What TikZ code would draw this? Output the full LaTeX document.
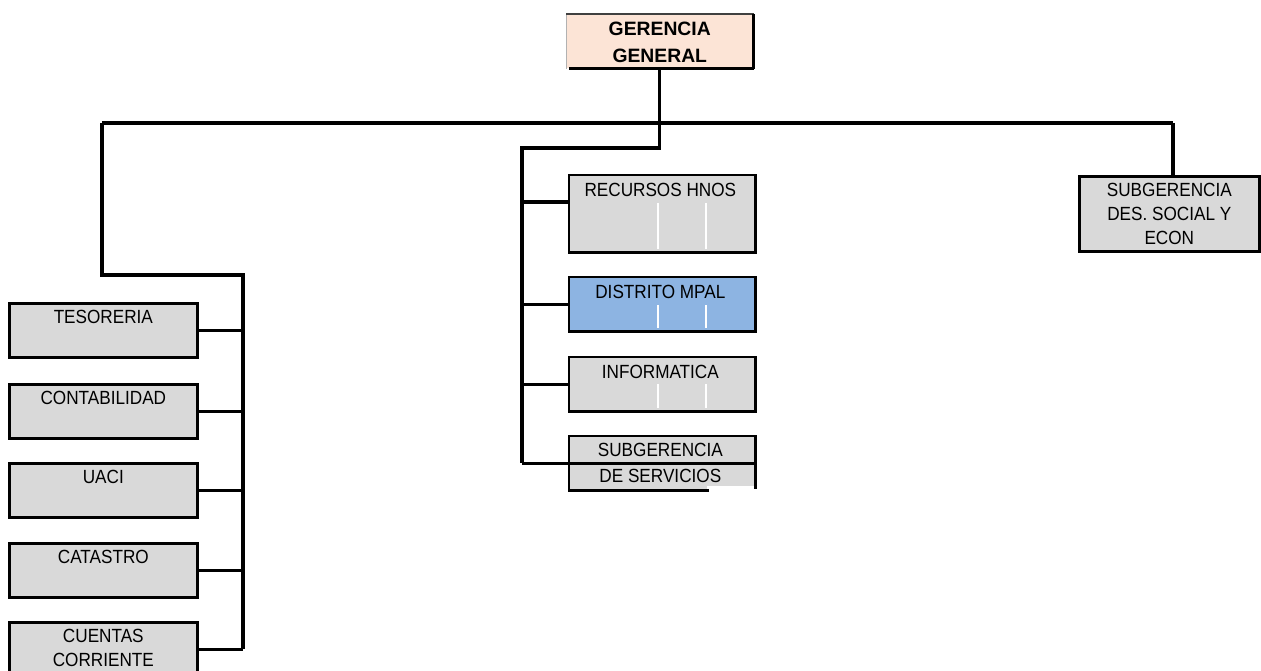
\documentclass[tikz,border=0pt]{standalone}
\usepackage{fontspec}
\setmainfont{Liberation Sans}
\newfontfamily\narrowsans[FakeStretch=0.9]{Liberation Sans}
\usetikzlibrary{calc}
\definecolor{boxgray}{HTML}{D9D9D9}
\definecolor{boxblue}{HTML}{8DB4E2}
\definecolor{boxpeach}{HTML}{FCE4D6}
\definecolor{rimgray}{HTML}{404040}
\begin{document}
\begin{tikzpicture}[x=0.75pt,y=-0.75pt,
  unit/.style={draw=black, line width=2pt, fill=boxgray, inner sep=0pt,
    anchor=north west, minimum width=141pt, minimum height=40.5pt},
  midunit/.style={unit, minimum width=138pt, minimum height=39pt},
  lbl/.style={anchor=north, inner sep=0pt, align=center,
    font=\narrowsans\fontsize{14.3}{18}\selectfont},
  grid/.style={white, line width=0.8pt},
  conn/.style={black, line width=2.5pt}]
\useasboundingbox (0,0) rectangle (1261,671);
\clip (0,0) rectangle (1261,671);

% ---- top: general management ----
\node[fill=boxpeach, inner sep=0pt, anchor=north west,
  minimum width=140.25pt, minimum height=40.5pt] (gg) at (566,14) {};
\draw[gray!60, line width=0.6pt] (gg.south west) -- (gg.north west);
\draw[rimgray, line width=2pt] (gg.north west) -- (gg.north east);
\draw[black, line width=2pt] (gg.north east) -- (gg.south east);
\draw[black, line width=2.4pt] ($(gg.south west)+(3,0)$) -- (gg.south east);
\node[lbl, font=\bfseries\fontsize{14.5}{20.25}\selectfont] (gg-t)
  at ($(gg.north)+(0,8)$) {GERENCIA\\GENERAL};

% ---- left column ----
\node[unit] (tes)  at (8,302) {};
\node[unit] (cont) at (8,383) {};
\node[unit] (uaci) at (8,462) {};
\node[unit] (cat)  at (8,542) {};
\node[unit] (cue)  at (8,621) {};
\node[lbl] (tes-t)  at ($(tes.north)+(0,7.5)$)  {TESORERIA};
\node[lbl] (cont-t) at ($(cont.north)+(0,7.5)$) {CONTABILIDAD};
\node[lbl] (uaci-t) at ($(uaci.north)+(0,7.5)$) {UACI};
\node[lbl] (cat-t)  at ($(cat.north)+(0,7.5)$)  {CATASTRO};
\node[lbl] (cue-t)  at ($(cue.north)+(0,7.5)$)  {CUENTAS\\CORRIENTE};

% ---- middle column ----
\node[midunit, draw=none, minimum height=56.25pt] (rec) at (569,175) {};
\draw[grid] (658,203) -- (658,249) (706,203) -- (706,249);
\draw[black, line width=2pt] (rec.north west) rectangle (rec.south east);

\node[midunit, draw=none, fill=boxblue] (dist) at (569,277) {};
\draw[grid] (658,305) -- (658,328) (706,305) -- (706,328);
\draw[black, line width=2pt] (dist.north west) rectangle (dist.south east);

\node[midunit, draw=none] (inf) at (569,357) {};
\draw[grid] (658,384) -- (658,408) (706,384) -- (706,408);
\draw[black, line width=2pt] (inf.north west) rectangle (inf.south east);

\node[midunit, draw=none] (sserv) at (569,436) {};
\fill[white] (707,486) rectangle (756,491);
\draw[black, line width=2pt]
  ($(sserv.south west)!0.75!(sserv.south east)$) -- (sserv.south west)
  -- (sserv.north west) -- (sserv.north east) -- ($(sserv.south east)+(0,-2)$);

\node[lbl] (rec-t)   at ($(rec.north)+(-2,8)$)   {RECURSOS HNOS};
\node[lbl] (dist-t)  at ($(dist.north)+(-2,8)$)  {DISTRITO MPAL};
\node[lbl] (inf-t)   at ($(inf.north)+(-2,8)$)   {INFORMATICA};
\node[lbl, font=\narrowsans\fontsize{14.3}{19.5}\selectfont] (sserv-t)
  at ($(sserv.north)+(-2,7)$) {SUBGERENCIA\\DE SERVICIOS};

% ---- right column ----
\node[unit, minimum width=135pt, minimum height=56.25pt] (sds) at (1078,175) {};
\node[lbl] (sds-t) at ($(sds.north)+(0,8)$) {SUBGERENCIA\\DES. SOCIAL Y\\ECON};

% ---- connectors ----
\coordinate (busL) at (102,123);
\coordinate (busR) at (1173,123);
\coordinate (busM) at (gg.south |- busL);
\coordinate (lt) at (243,275);
\coordinate (mt) at (522,148);
\coordinate (recj) at ($(rec.north west)+(0,27)$);

\draw[conn] (gg.south) -- (busM);
\draw[conn] (busL) -- (busR);
\draw[conn] (busR) -- (busR |- sds.north);

\draw[conn] (busL) |- (lt) -- (lt |- cue.east);
\foreach \n in {tes,cont,uaci,cat,cue}
  \draw[conn] (\n.east) -- (\n.east -| lt);

\draw[conn] (busM) |- (mt) -- (mt |- sserv.west);
\draw[conn] (mt |- recj) -- (recj);
\draw[conn] (mt |- dist.west) -- (dist.west);
\draw[conn] (mt |- inf.west) -- (inf.west);
\draw[conn] (mt |- sserv.west) -- (sserv.east);
\end{tikzpicture}
\end{document}
